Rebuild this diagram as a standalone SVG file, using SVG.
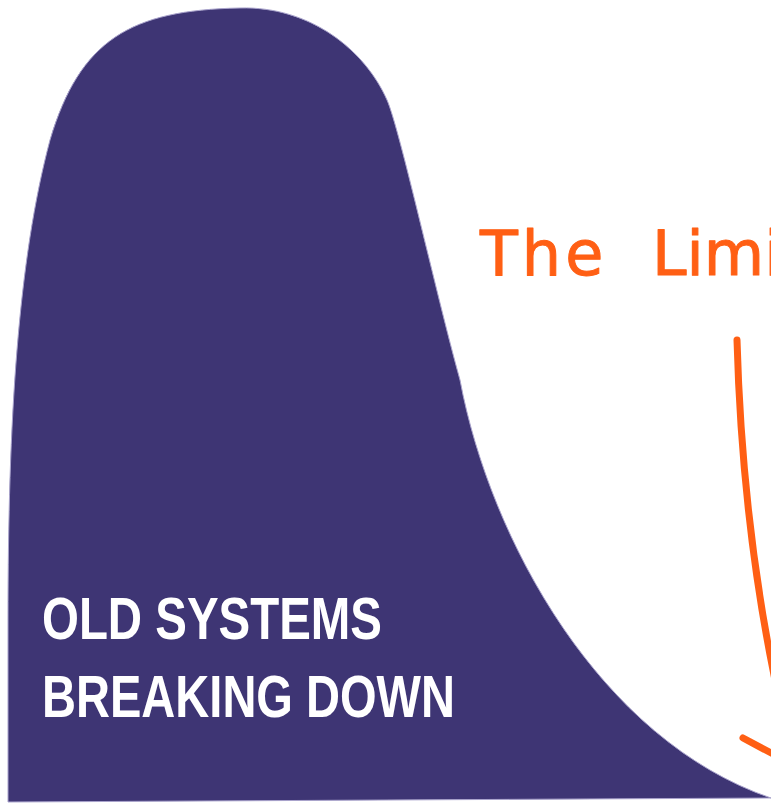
<svg xmlns="http://www.w3.org/2000/svg" width="771" height="804" viewBox="0 0 771 804">
<style>
.label{font-family:"Liberation Sans",Arial,sans-serif;font-weight:bold;font-size:60px;fill:#ffffff}
.hand{font-family:"DejaVu Sans","Liberation Sans",sans-serif;font-size:62px;fill:#ff5f14;stroke:#ff5f14;stroke-width:1;stroke-linejoin:round}
.stroke{fill:none;stroke:#ff5f14;stroke-width:7;stroke-linecap:round}
</style>
<rect width="771" height="804" fill="#ffffff"/>
<g id="old-systems">
<path d="M8,802 L8,620 C8,420 18,260 50,140 C80,40 130,10 240,8 C310,6 365,50 387,100 C400,130 435,290 460,380 C490,540 600,740 771,798 L771,798 Z" fill="#3e3574" stroke="#a9a3cc" stroke-width="1"/>
<text class="label" x="42" y="639" textLength="340" lengthAdjust="spacingAndGlyphs">OLD SYSTEMS</text>
<text class="label" x="42" y="717" textLength="413" lengthAdjust="spacingAndGlyphs">BREAKING DOWN</text>
</g>
<g id="liminal">
<text class="hand" y="275"><tspan x="480" letter-spacing="4">The</tspan><tspan x="652">Limi</tspan></text>
</g>
<g id="connectors">
<path class="stroke" d="M737,340 Q742,520 775,680"/>
<path class="stroke" d="M743,738 L790,763"/>
</g>
</svg>
